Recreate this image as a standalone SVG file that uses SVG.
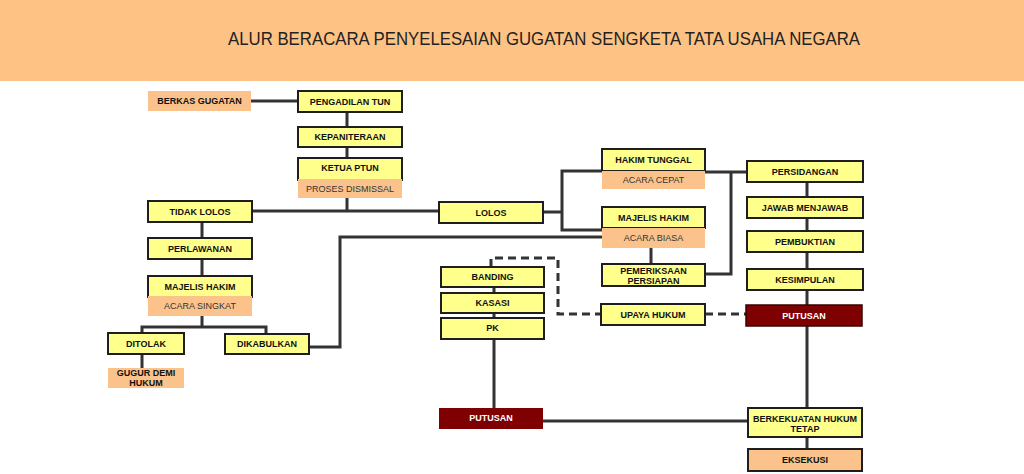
<svg xmlns="http://www.w3.org/2000/svg" width="1024" height="474" viewBox="0 0 1024 474">
<style>
.y{fill:#ffff8c;stroke:#1e1e1e;stroke-width:2}
.o{fill:#fbc38b}
.ob{fill:#fbc38b;stroke:#1e1e1e;stroke-width:2}
.r{fill:#7f0000}
.t{font-family:"Liberation Sans",Arial,sans-serif;font-size:9px;font-weight:bold;fill:#111;text-anchor:middle}
.n{font-family:"Liberation Sans",Arial,sans-serif;font-size:9px;fill:#333;text-anchor:middle}
.w{font-family:"Liberation Sans",Arial,sans-serif;font-size:9px;font-weight:bold;fill:#fff;text-anchor:middle}
.c{fill:none;stroke:#333;stroke-width:3}
.d{fill:none;stroke:#333;stroke-width:3;stroke-dasharray:8 5}
</style>
<rect width="1024" height="474" fill="#fff"/>
<rect x="0" y="0" width="1024" height="81" fill="#fec384"/>
<text x="544" y="45" font-family="Liberation Sans, Arial, sans-serif" font-size="19" fill="#222" text-anchor="middle" textLength="632" lengthAdjust="spacingAndGlyphs">ALUR BERACARA PENYELESAIAN GUGATAN SENGKETA TATA USAHA NEGARA</text>
<g id="connectors">
<path class="c" d="M251 101H298M347 112V127M347 147V158M347 198V211M252 211H439M543 212H562M602 171H562V230H602"/>
<path class="c" d="M202 222V238M202 259V276M202 316V327M142 334V327H266V334M142 354V368M309 347H340V237H602"/>
<path class="c" d="M651 248V264M705 172H748M731 172V274H705M807 182V408M807 437V449"/>
<path class="c" d="M494 287V293M494 313V318M494 339V408M543 421H748"/>
<path class="d" d="M491 267V258H558V314H601M705 314H746"/>
</g>
<g id="berkas"><rect class="o" x="148" y="91" width="103" height="20"/><text class="t" x="199.5" y="104.2">BERKAS GUGATAN</text></g>
<g id="pengadilan"><rect class="y" x="298" y="91" width="104" height="21"/><text class="t" x="350" y="104.7">PENGADILAN TUN</text></g>
<g id="kepaniteraan"><rect class="y" x="298" y="127" width="104" height="20"/><text class="t" x="350" y="140.2">KEPANITERAAN</text></g>
<g id="ketua"><rect class="y" x="298" y="158" width="104" height="22"/><rect class="o" x="298" y="179" width="104" height="19"/><text class="t" x="350" y="170.5">KETUA PTUN</text><text class="n" x="350" y="191.7">PROSES DISMISSAL</text></g>
<g id="tidaklolos"><rect class="y" x="148" y="201" width="104" height="21"/><text class="t" x="200" y="214.7">TIDAK LOLOS</text></g>
<g id="lolos"><rect class="y" x="439" y="202" width="104" height="21"/><text class="t" x="491" y="215.7">LOLOS</text></g>
<g id="hakimtunggal"><rect class="y" x="602" y="149" width="103" height="22"/><rect class="o" x="602" y="171" width="103" height="18"/><text class="t" x="653.5" y="162.5">HAKIM TUNGGAL</text><text class="n" x="653.5" y="183.2">ACARA CEPAT</text></g>
<g id="majelisbiasa"><rect class="y" x="602" y="207" width="103" height="21"/><rect class="o" x="602" y="228" width="103" height="20"/><text class="t" x="653.5" y="220.7">MAJELIS HAKIM</text><text class="n" x="653.5" y="241.2">ACARA BIASA</text></g>
<g id="pemeriksaan"><rect class="y" x="602" y="264" width="103" height="22"/><text class="t" x="653.5" y="273.5" font-size="8.5">PEMERIKSAAN</text><text class="t" x="653.5" y="283.5" font-size="8.5">PERSIAPAN</text></g>
<g id="upaya"><rect class="y" x="601" y="304" width="104" height="21"/><text class="t" x="653" y="317.7">UPAYA HUKUM</text></g>
<g id="persidangan"><rect class="y" x="747" y="161" width="116" height="21"/><text class="t" x="805" y="174.7">PERSIDANGAN</text></g>
<g id="jawab"><rect class="y" x="747" y="197" width="116" height="21"/><text class="t" x="805" y="210.7">JAWAB MENJAWAB</text></g>
<g id="pembuktian"><rect class="y" x="747" y="231" width="116" height="21"/><text class="t" x="805" y="244.7">PEMBUKTIAN</text></g>
<g id="kesimpulan"><rect class="y" x="747" y="269" width="116" height="21"/><text class="t" x="805" y="282.7">KESIMPULAN</text></g>
<g id="putusan1"><rect class="r" x="746" y="305" width="116" height="21" stroke="#3a0000" stroke-width="1.5"/><text class="w" x="804" y="318.7">PUTUSAN</text></g>
<g id="berkekuatan"><rect class="y" x="748" y="408" width="114" height="29"/><text class="t" x="805" y="421.5">BERKEKUATAN HUKUM</text><text class="t" x="805" y="431.5">TETAP</text></g>
<g id="eksekusi"><rect class="ob" x="748" y="449" width="114" height="22"/><text class="t" x="805" y="463">EKSEKUSI</text></g>
<g id="putusan2"><rect class="r" x="439" y="408" width="104" height="21"/><text class="w" x="491" y="420.7">PUTUSAN</text></g>
<g id="banding"><rect class="y" x="441" y="267" width="103" height="20"/><text class="t" x="492.5" y="280.2">BANDING</text></g>
<g id="kasasi"><rect class="y" x="441" y="293" width="103" height="20"/><text class="t" x="492.5" y="306.2">KASASI</text></g>
<g id="pk"><rect class="y" x="441" y="318" width="103" height="21"/><text class="t" x="492.5" y="330.7">PK</text></g>
<g id="perlawanan"><rect class="y" x="148" y="238" width="104" height="21"/><text class="t" x="200" y="251.7">PERLAWANAN</text></g>
<g id="majelissingkat"><rect class="y" x="148" y="276" width="104" height="21"/><rect class="o" x="148" y="296" width="104" height="20"/><text class="t" x="200" y="289.5">MAJELIS HAKIM</text><text class="n" x="200" y="309.2">ACARA SINGKAT</text></g>
<g id="ditolak"><rect class="y" x="108" y="333" width="76" height="21"/><text class="t" x="146" y="346.7">DITOLAK</text></g>
<g id="dikabulkan"><rect class="y" x="225" y="334" width="84" height="20"/><text class="t" x="267" y="347.2">DIKABULKAN</text></g>
<g id="gugur"><rect class="o" x="108" y="368" width="76" height="20"/><text class="t" x="146" y="375.5">GUGUR DEMI</text><text class="t" x="146" y="385.5">HUKUM</text></g>
</svg>
